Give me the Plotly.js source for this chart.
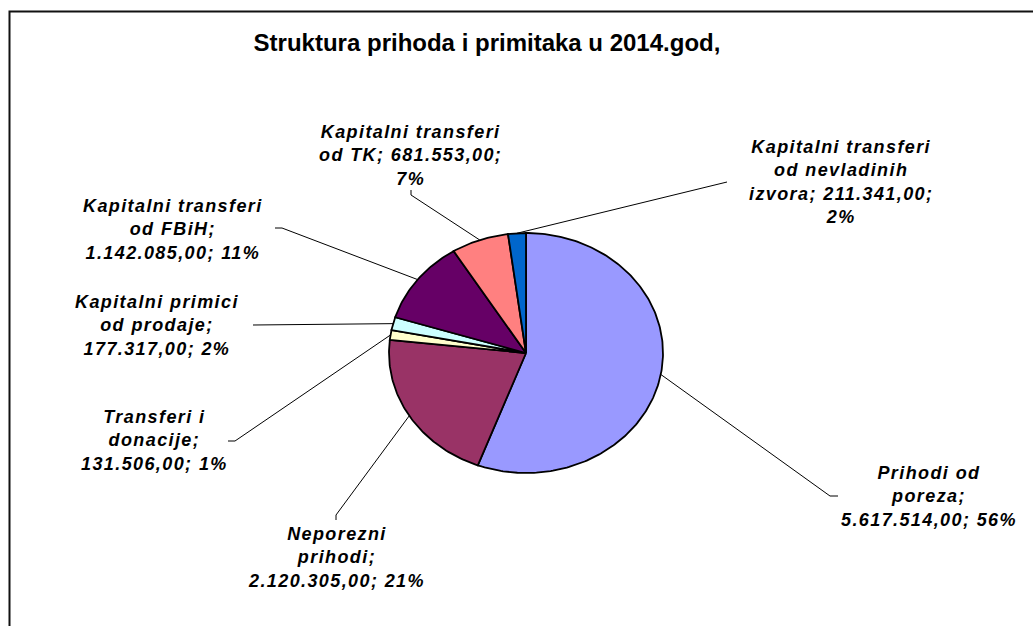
<!DOCTYPE html>
<html><head><meta charset="utf-8">
<script src="https://cdn.plot.ly/plotly-3.0.1.min.js"></script>
<style>html,body{margin:0;padding:0;background:#fff}</style>
</head><body><div id="chart" style="width:1033px;height:626px"></div>
<script>
// ---- data ----
const categories = ["Prihodi od poreza", "Neporezni prihodi", "Transferi i donacije",
  "Kapitalni primici od prodaje", "Kapitalni transferi od FBiH",
  "Kapitalni transferi od TK", "Kapitalni transferi od nevladinih izvora"];
const labelNames = ["Prihodi od<br>poreza", "Neporezni<br>prihodi", "Transferi i<br>donacije",
  "Kapitalni primici<br>od prodaje", "Kapitalni transferi<br>od FBiH",
  "Kapitalni transferi<br>od TK", "Kapitalni transferi<br>od nevladinih<br>izvora"];
const values = [5617514, 2120305, 131506, 177317, 1142085, 681553, 211341];
const titleText = "Struktura prihoda i primitaka u 2014.god,";

// ---- style / layout ----
const colors = ["#9999FF", "#993366", "#FFFFCC", "#CCFFFF", "#660066", "#FF8080", "#0066CC"];
const valueOnNameLine = [false, false, false, false, false, true, true];
const CX = 526, CY = 353, RX = 137, RY = 120;   // pie centre and radii in pixels
const labelPos = [[929,496],[336,557],[154,440],[157,325],[173,229],[410,155],[841,182]];
const leaderEnd = [[[838,496],[830,496]], [[336,520],[336,515]], [[228,441],[235,441]],
  [[253,325]], [[275,228],[282,228]], [[411,190],[411,195]], [[727,182]]];

const px2x = p => (p - CX) / RX;
const py2y = p => (CY - p) / RY;

const total = values.reduce((a, b) => a + b, 0);
function fmt(v) {
  const s = String(Math.round(v)).replace(/\B(?=(\d{3})+(?!\d))/g, ".");
  return s + ",00";
}
function spaced(t, sp) {
  return t.split("<br>").map(l => '<span style="letter-spacing:' + sp + 'px">' + l + '</span>').join("<br>");
}

const traces = [];
const annotations = [];
let cum = 0;
values.forEach((v, i) => {
  const a0 = cum / total * 2 * Math.PI;
  cum += v;
  const a1 = cum / total * 2 * Math.PI;
  const xs = [0], ys = [0];
  const n = Math.max(2, Math.ceil((a1 - a0) / (Math.PI / 180)));
  for (let k = 0; k <= n; k++) {
    const t = a0 + (a1 - a0) * k / n;
    xs.push(Math.sin(t)); ys.push(Math.cos(t));
  }
  xs.push(0); ys.push(0);
  traces.push({type: "scatter", mode: "lines", x: xs, y: ys, fill: "toself",
    fillcolor: colors[i], line: {color: "#000", width: 1.8}, name: categories[i],
    hoverinfo: "name", showlegend: false});

  // leader line from the slice edge (mid angle) to the label
  const am = (a0 + a1) / 2;
  const lx = leaderEnd[i].map(p => px2x(p[0]));
  const ly = leaderEnd[i].map(p => py2y(p[1]));
  lx.push(Math.sin(am)); ly.push(Math.cos(am));
  traces.push({type: "scatter", mode: "lines", x: lx, y: ly,
    line: {color: "#000", width: 1}, hoverinfo: "skip", showlegend: false});

  const pct = Math.round(v / total * 100) + "%";
  const text = valueOnNameLine[i]
    ? labelNames[i] + "; " + fmt(v) + ";<br>" + pct
    : labelNames[i] + ";<br>" + fmt(v) + "; " + pct;
  annotations.push({x: px2x(labelPos[i][0]), y: py2y(labelPos[i][1]), xref: "x", yref: "y",
    text: spaced(text, 1.4), showarrow: false, xanchor: "center", yanchor: "middle", align: "center",
    font: {family: "Arial, 'Liberation Sans', sans-serif", size: 18, color: "#000",
      weight: "bold", style: "italic"}});
});

const layout = {
  width: 1033, height: 626,
  margin: {l: 0, r: 0, t: 0, b: 0},
  paper_bgcolor: "#fff", plot_bgcolor: "#fff",
  showlegend: false,
  title: {text: titleText, x: 487 / 1033, xanchor: "center", xref: "paper",
    y: 1 - 43 / 626, yanchor: "middle", yref: "paper",
    font: {family: "Arial, 'Liberation Sans', sans-serif", size: 24, color: "#000", weight: "bold"}},
  xaxis: {range: [px2x(0), px2x(1033)], visible: false, fixedrange: true},
  yaxis: {range: [py2y(626), py2y(0)], visible: false, fixedrange: true},
  annotations: annotations,
  shapes: [{type: "rect", xref: "paper", yref: "paper", x0: 9.5 / 1033, x1: 1.05,
    y0: -0.05, y1: 1 - 11.5 / 626, line: {color: "#111", width: 2}}]
};

Plotly.newPlot("chart", traces, layout, {displayModeBar: false, staticPlot: true});
</script>
</body></html>
